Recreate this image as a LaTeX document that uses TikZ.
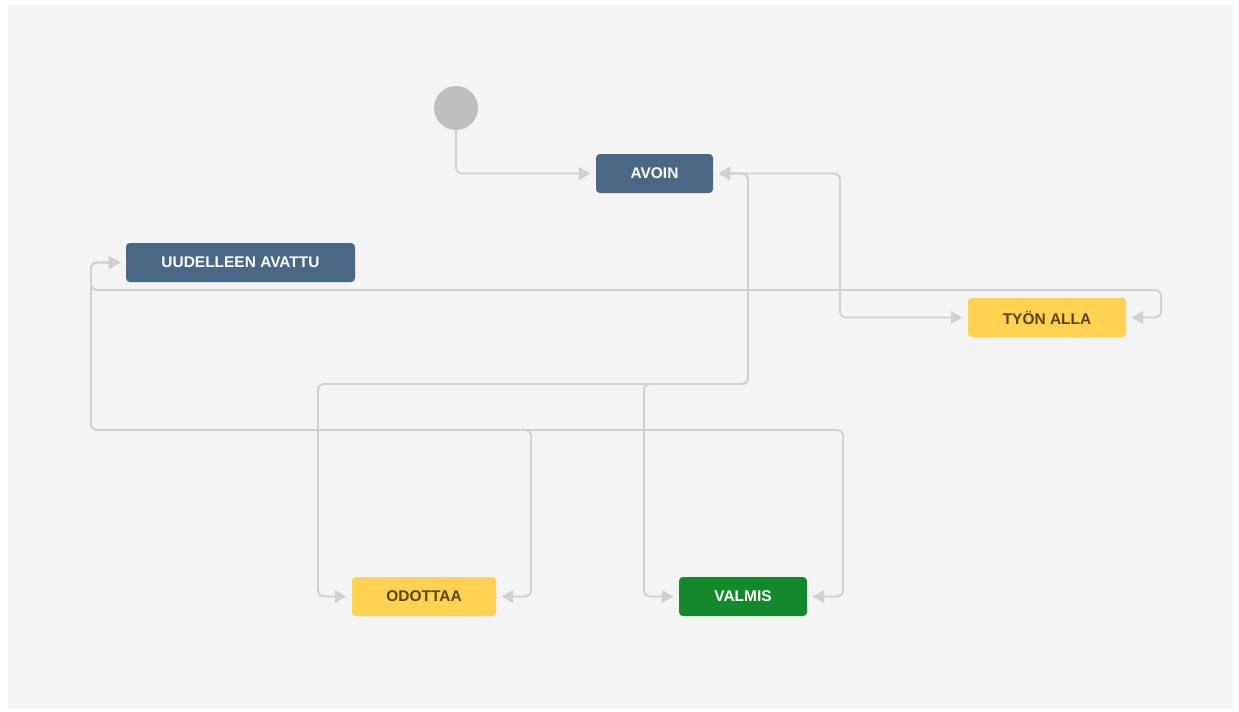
\documentclass[tikz,border=0pt]{standalone}
\usepackage{fontspec}
\setmainfont{Liberation Sans}
\usetikzlibrary{arrows.meta}
\definecolor{jiraBlue}{HTML}{4A6785}
\definecolor{jiraYellow}{HTML}{FFD351}
\definecolor{jiraBrown}{HTML}{594300}
\definecolor{jiraGreen}{HTML}{14892C}
\definecolor{panelGrey}{HTML}{F4F4F4}
\definecolor{lineGrey}{HTML}{D0D0D0}
\definecolor{startGrey}{HTML}{BEBEBE}

\begin{document}
\begin{tikzpicture}[every node/.style={rectangle, rounded corners=2.2pt, minimum height=0.78cm, inner sep=0pt, font=\fontsize{8.8}{10}\selectfont\bfseries, text=white},
  flow/.style={draw=lineGrey, line width=1.1pt, rounded corners=3.5pt},
  tip/.style={-{Triangle[length=6.5pt, width=7pt]}, shorten >=3pt},
  tips/.style={{Triangle[length=6.5pt, width=7pt]}-{Triangle[length=6.5pt, width=7pt]}, shorten <=3pt, shorten >=3pt}]
  \useasboundingbox (0,0) rectangle (24.78,14.22);
  \fill[panelGrey] (0.16,0.04) rectangle (24.64,14.12);
  \node (start) [circle, fill=startGrey, minimum size=0.88cm] at (9.12cm, 12.06cm) {};
  \node (avoin) [fill=jiraBlue, minimum width=2.34cm] at (13.09cm, 10.75cm) {AVOIN};
  \node (uudelleen) [fill=jiraBlue, minimum width=4.58cm] at (4.81cm, 8.97cm) {UUDELLEEN AVATTU};
  \node (tyon) [fill=jiraYellow, text=jiraBrown, minimum width=3.16cm] at (20.94cm, 7.87cm) {TYÖN ALLA};
  \node (odottaa) [fill=jiraYellow, text=jiraBrown, minimum width=2.88cm] at (8.48cm, 2.29cm) {ODOTTAA};
  \node (valmis) [fill=jiraGreen, minimum width=2.56cm] at (14.86cm, 2.29cm) {VALMIS};
  \draw [flow, tip] (start.south) |- (avoin.west);
  \draw [flow, tips] (avoin.east) -| (16.80, 7.87) -- (tyon.west);
  \draw [flow, tips] (avoin.east) -| (14.96, 6.54) -| (6.36, 2.29) -- (odottaa.west);
  \draw [flow, tips] (avoin.east) -| (14.96, 6.54) -| (12.88, 2.29) -- (valmis.west);
  \draw [flow, tips] (uudelleen.west) -| (1.82, 5.62) -| (10.62, 2.29) -- (odottaa.east);
  \draw [flow, tips] (uudelleen.west) -| (1.82, 5.62) -| (16.86, 2.29) -- (valmis.east);
  \draw [flow, tips] (uudelleen.west) -| (1.82, 8.42) -| (23.22, 7.87) -- (tyon.east);
\end{tikzpicture}
\end{document}
